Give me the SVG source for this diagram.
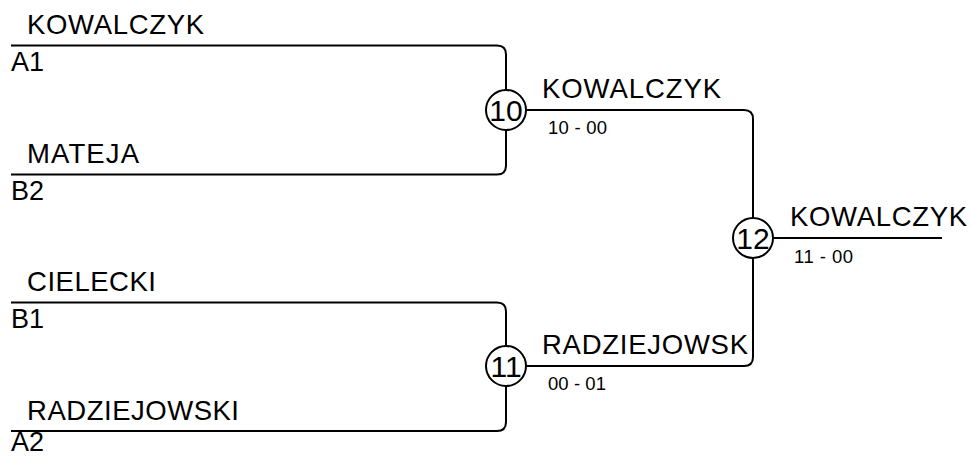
<svg xmlns="http://www.w3.org/2000/svg" width="971" height="457" viewBox="0 0 971 457">
<style>
.ln{fill:none;stroke:#000;stroke-width:2}
.cr{fill:#fff;stroke:#000;stroke-width:2}
.nm{font-family:"Liberation Sans",Arial,sans-serif;font-size:27.5px;fill:#000}
.cd{font-family:"Liberation Sans",Arial,sans-serif;font-size:27px;fill:#000}
.sc{font-family:"Liberation Sans",Arial,sans-serif;font-size:18.5px;fill:#000}
.no{font-family:"Liberation Sans",Arial,sans-serif;font-size:30px;fill:#000;text-anchor:middle}
</style>
<rect width="971" height="457" fill="#fff"/>
<g id="connectors">
<path class="ln" d="M11,45.5 H497 Q506,45.5 506,54.5 V90"/>
<path class="ln" d="M11,174.5 H497 Q506,174.5 506,165.5 V130"/>
<path class="ln" d="M11,302.5 H497 Q506,302.5 506,311.5 V346"/>
<path class="ln" d="M11,431 H497 Q506,431 506,422 V386"/>
<path class="ln" d="M526,110 H744 Q753,110 753,119 V218"/>
<path class="ln" d="M526,366 H744 Q753,366 753,357 V258"/>
<path class="ln" d="M773,238 H942"/>
</g>
<g id="entry-a1">
<text class="nm" x="27" y="33.5" textLength="177">KOWALCZYK</text>
<text class="cd" x="11" y="70.5">A1</text>
</g>
<g id="entry-b2">
<text class="nm" x="27" y="163" textLength="112">MATEJA</text>
<text class="cd" x="11" y="200">B2</text>
</g>
<g id="entry-b1">
<text class="nm" x="27" y="291" textLength="129">CIELECKI</text>
<text class="cd" x="11" y="328">B1</text>
</g>
<g id="entry-a2">
<text class="nm" x="27" y="419.5" textLength="212">RADZIEJOWSKI</text>
<text class="cd" x="11" y="451">A2</text>
</g>
<g id="match-10">
<circle class="cr" cx="506" cy="110" r="20"/>
<text class="no" x="506" y="121">10</text>
<text class="nm" x="542" y="98" textLength="179">KOWALCZYK</text>
<text class="sc" x="548" y="134" textLength="59">10 - 00</text>
</g>
<g id="match-11">
<circle class="cr" cx="506" cy="366" r="20"/>
<text class="no" x="506" y="377">11</text>
<text class="nm" x="542" y="354" textLength="206">RADZIEJOWSK</text>
<text class="sc" x="548" y="390" textLength="58">00 - 01</text>
</g>
<g id="match-12">
<circle class="cr" cx="753" cy="238" r="20"/>
<text class="no" x="753" y="249">12</text>
<text class="nm" x="790" y="226" textLength="177">KOWALCZYK</text>
<text class="sc" x="794" y="262.5" textLength="59">11 - 00</text>
</g>
</svg>
